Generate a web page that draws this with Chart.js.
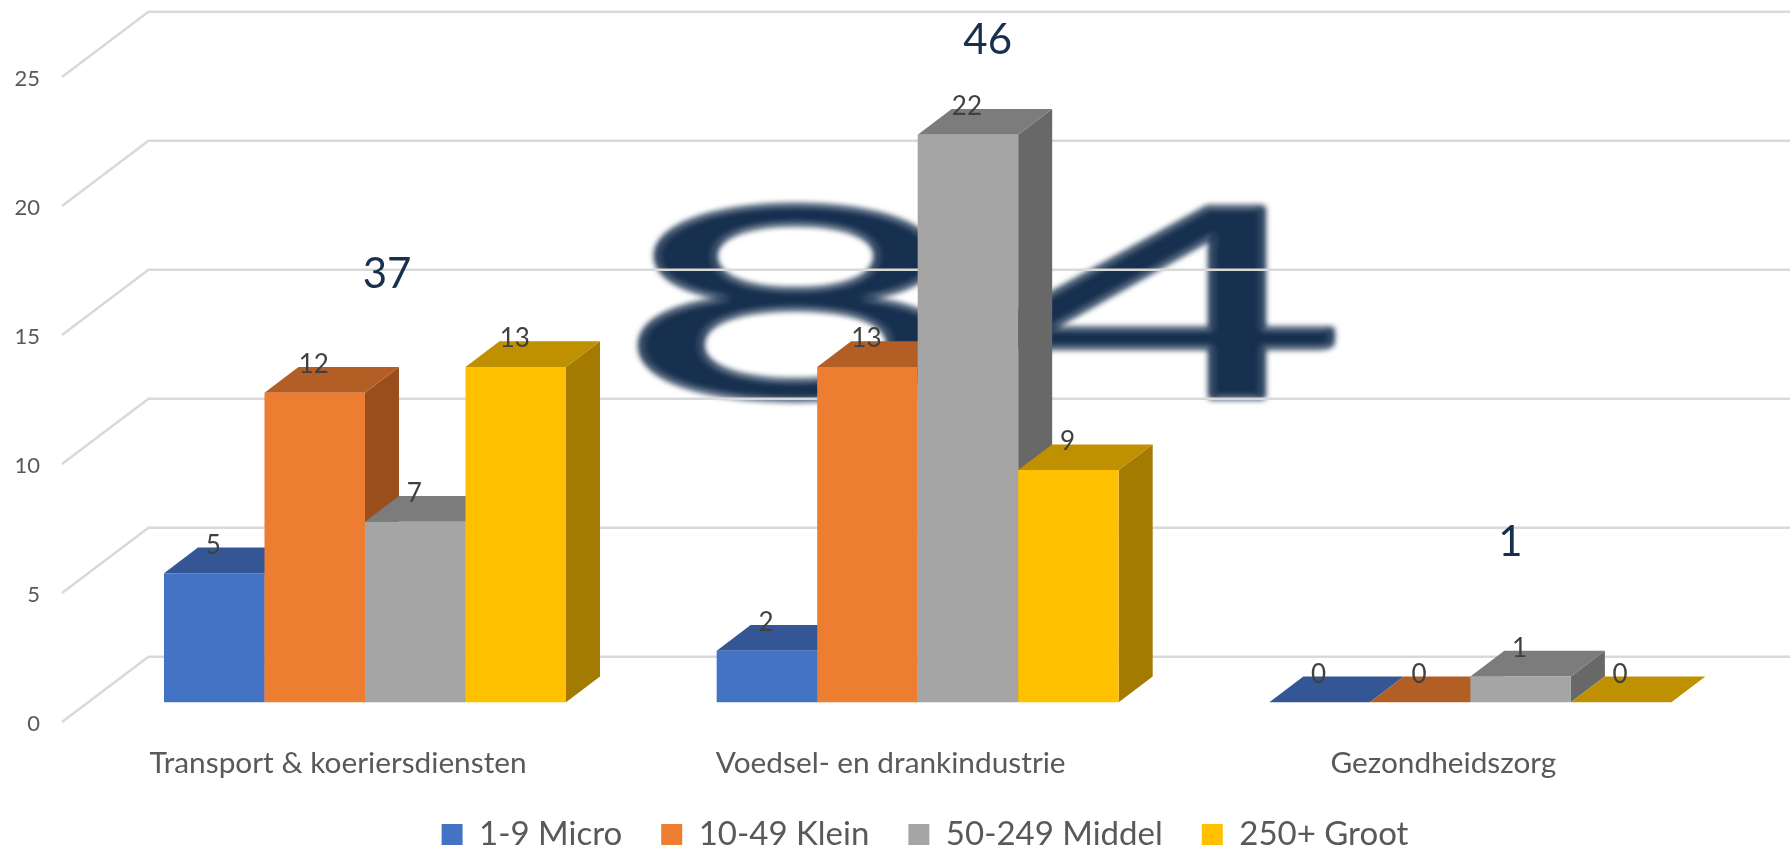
<!DOCTYPE html>
<html>
<head>
<meta charset="utf-8">
<title>84</title>
<script src="https://cdn.jsdelivr.net/npm/chart.js@4"></script>
<style>
    html, body { margin: 0; padding: 0; background: #fff; overflow: hidden; }
    canvas { display: block; }
</style>
</head>
<body>
<canvas id="chart" width="1790" height="849"></canvas>
<script>
const categories = ['Transport & koeriersdiensten', 'Voedsel- en drankindustrie', 'Gezondheidszorg']
const yTicks = [0, 5, 10, 15, 20, 25]
const micro = [5, 2, 0]
const klein = [12, 13, 0]
const middel = [7, 22, 1]
const groot = [13, 9, 0]
const totals = [37, 46, 1]
const grandTotal = '84'

const seriesNames = ['1-9 Micro', '10-49 Klein', '50-249 Middel', '250+ Groot']
const seriesValues = [micro, klein, middel, groot]
const frontColors = ['#4472C4', '#ED7D31', '#A5A5A5', '#FFC000']
const topColors = ['#345694', '#B35E24', '#7C7C7C', '#BF9000']
const sideColors = ['#2A4478', '#9A4E1C', '#686868', '#A37B00']

// depth of the fake 3d
const BAR_DX = 34, BAR_DY = 25.7
const BACK_DY = 45.6
const FRONT_DY = 19.7
const LEGEND_PAD = 39
const LEGEND_FONT = 33
const PLOT_TOP = 57.3, PLOT_BOTTOM = 702.3
const NAVY = '#17304F'

function poly(ctx, pts, color) {
    ctx.fillStyle = color
    ctx.beginPath()
    pts.forEach(function (p, i) {
        if (i == 0) ctx.moveTo(p[0], p[1])
        else ctx.lineTo(p[0], p[1])
    })
    ctx.closePath()
    ctx.fill()
}

const fake3d = {
    id: 'fake3d',
    afterLayout(chart) {
        // legend sits a bit right of the middle, and its padding is only for the gaps
        chart.legend.left = 30
        chart.legend.right = 1820
        chart.legend.top = 834.5 - LEGEND_PAD - LEGEND_FONT / 2
        // the x labels get clipped to the axis box otherwise
        chart.scales.x.bottom = 800
        // layout moves the plot with the tick font, so pin the y range here
        const y = chart.scales.y
        y.top = PLOT_TOP
        y.bottom = PLOT_BOTTOM
        y.height = PLOT_BOTTOM - PLOT_TOP
        y.configure()
        chart.chartArea.top = PLOT_TOP
        chart.chartArea.bottom = PLOT_BOTTOM
    },
    beforeDatasetsDraw(chart) {
        const ctx = chart.ctx
        const y = chart.scales.y

        // big blurred number behind everything
        ctx.save()
        ctx.filter = 'blur(3px)'
        ctx.translate(980, 312)
        ctx.scale(2.4, 1)
        ctx.fillStyle = NAVY
        ctx.strokeStyle = NAVY
        ctx.lineWidth = 3
        ctx.font = '265px Lato'
        ctx.textAlign = 'center'
        ctx.textBaseline = 'middle'
        ctx.fillText(grandTotal, 0, 0)
        ctx.strokeText(grandTotal, 0, 0)
        ctx.restore()

        // back wall lines + the slanted part on the left
        ctx.save()
        ctx.strokeStyle = '#D9D9D9'
        ctx.lineWidth = 2.5
        yTicks.forEach(function (t) {
            const py = y.getPixelForValue(t)
            ctx.beginPath()
            ctx.moveTo(62, py + FRONT_DY)
            ctx.lineTo(148.5, py - BACK_DY)
            ctx.lineTo(chart.width, py - BACK_DY)
            ctx.stroke()
        })
        ctx.restore()

        // left to right: side and top first, the front goes on top of them
        seriesValues.forEach(function (vals, i) {
            const meta = chart.getDatasetMeta(i)
            meta.data.forEach(function (bar) {
                const l = bar.x - bar.width / 2
                const r = bar.x + bar.width / 2
                const t = bar.y
                const b = bar.base
                poly(ctx, [[r, t], [r + BAR_DX, t - BAR_DY], [r + BAR_DX, b - BAR_DY], [r, b]], sideColors[i])
                poly(ctx, [[l, t], [l + BAR_DX, t - BAR_DY], [r + BAR_DX, t - BAR_DY], [r, t]], topColors[i])
            })
            meta.controller.draw()
        })
        return false
    },
    afterDraw(chart) {
        const ctx = chart.ctx
        const x = chart.scales.x
        const y = chart.scales.y
        ctx.save()
        ctx.textAlign = 'center'
        ctx.textBaseline = 'middle'

        // value labels
        ctx.fillStyle = '#404040'
        ctx.font = '26px Lato'
        seriesValues.forEach(function (vals, i) {
            chart.getDatasetMeta(i).data.forEach(function (bar, j) {
                ctx.fillText(vals[j], bar.x - 1, bar.y - 28)
            })
        })

        // group totals, floating free above the bars
        const totalDx = [22, 70, 40]
        const totalAt = [16.6, 25.65, 6.2]
        ctx.fillStyle = NAVY
        ctx.font = '42px Lato'
        totals.forEach(function (v, j) {
            ctx.fillText(v, x.getPixelForValue(j) + totalDx[j], y.getPixelForValue(totalAt[j]))
        })
        ctx.restore()
    }
}

new Chart(document.getElementById('chart'), {
    type: 'bar',
    data: {
        labels: categories,
        datasets: seriesNames.map(function (name, i) {
            return {
                label: name,
                data: seriesValues[i],
                backgroundColor: frontColors[i],
                barPercentage: 1,
                categoryPercentage: 0.7274
            }
        })
    },
    options: {
        responsive: false,
        animation: false,
        layout: { padding: { top: PLOT_TOP, right: 43.3, left: 0, bottom: 0 } },
        plugins: {
            tooltip: { enabled: false },
            legend: {
                position: 'bottom',
                labels: {
                    boxWidth: 21,
                    boxHeight: 21,
                    padding: LEGEND_PAD,
                    color: '#595959',
                    font: { family: 'Lato', size: LEGEND_FONT }
                }
            }
        },
        scales: {
            x: {
                grid: { display: false, drawTicks: false },
                border: { display: false },
                afterFit(scale) { scale.height = 146.7 - scale.chart.legend.height },
                ticks: {
                    maxRotation: 0,
                    autoSkip: false,
                    padding: 43,
                    labelOffset: -27,
                    color: '#595959',
                    font: { family: 'Lato', size: 29.8 }
                }
            },
            y: {
                min: 0,
                max: 25,
                grid: { display: false, drawTicks: false },
                border: { display: false },
                afterFit(scale) { scale.width = 88.65 },
                ticks: {
                    stepSize: 5,
                    padding: 48.6,
                    labelOffset: 22,
                    color: '#595959',
                    font: { family: 'Lato', size: 22 }
                }
            }
        }
    },
    plugins: [fake3d]
})
</script>
</body>
</html>
